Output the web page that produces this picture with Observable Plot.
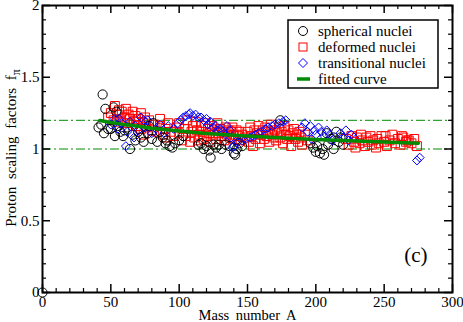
<!DOCTYPE html>
<html>
<head>
<meta charset="utf-8">
<script src="https://cdn.jsdelivr.net/npm/d3@7"></script>
<script src="https://cdn.jsdelivr.net/npm/@observablehq/plot@0.6"></script>
<style>
  html, body { margin: 0; padding: 0; background: white; }
</style>
</head>
<body>
<div id="chart"></div>
<script>
// ---- data (mass number A, proton scaling factor f_pi) ----
const spherical = [
  [0,0],
  [41,1.15],[43,1.17],[44,1.38],[45,1.11],[46,1.28],[48,1.14],[50,1.14],[52,1.29],[53,1.09],[54,1.26],
  [55,1.16],[57,1.12],[59,1.09],[60,1.13],[62,1.15],[64,1.00],[66,1.10],[68,1.06],[70,1.12],[72,1.08],
  [74,1.05],[77,1.11],[78,1.16],[81,1.18],[80,1.07],[84,1.05],[86,1.12],[88,1.08],[90,1.04],[91,1.06],
  [93,1.02],[95,1.01],[97,1.04],[100,1.06],[103,1.09],[114,1.03],[116,1.04],[118,1.00],[120,1.02],
  [122,0.99],[123,0.94],[125,1.03],[127,1.01],[129,1.03],[131,1.00],[134,1.03],[137,1.02],[140,0.97],
  [141,0.96],[142,1.00],[144,1.04],[146,1.02],[174,1.20],[196,1.04],[198,1.01],[200,0.98],[201,1.02],
  [203,0.97],[205,1.00],[206,0.96],[208,1.11],[209,1.03],[211,1.07],[213,1.08],[213,1.00],[215,1.12],
  [217,1.05],[218,1.08],[220,1.03]
];
const deformed = [
  [48,1.22],[50,1.25],[52,1.20],[53,1.30],[55,1.24],[56,1.27],[57,1.19],[58,1.26],[60,1.22],[61,1.28],
  [62,1.18],[63,1.24],[64,1.21],[66,1.26],[67,1.19],[68,1.23],[69,1.16],[70,1.21],[72,1.25],[74,1.18],
  [75,1.22],[72,1.14],[74,1.10],[76,1.15],[78,1.20],[80,1.13],[82,1.17],[84,1.12],[86,1.16],[88,1.10],
  [90,1.14],[92,1.18],[94,1.12],[96,1.09],[98,1.15],[100,1.11],[86,1.21],[90,1.08],
  [100,1.18],[102,1.06],[104,1.14],[105,1.09],[106,1.20],[108,1.05],[109,1.12],[110,1.16],[111,1.08],
  [112,1.19],[113,1.13],[114,1.06],[115,1.10],[116,1.16],[117,1.12],[118,1.07],[119,1.18],[120,1.09],
  [121,1.14],[122,1.11],[123,1.05],[124,1.16],[125,1.10],[126,1.13],[127,1.07],[128,1.18],[129,1.11],
  [130,1.14],[131,1.09],[132,1.12],[133,1.06],[134,1.15],[135,1.10],[136,1.13],[137,1.08],[138,1.12],
  [139,1.15],[140,1.10],[141,1.07],[142,1.13],[143,1.09],[144,1.12],[145,1.06],[146,1.10],
  [148,1.08],[150,1.12],[151,1.05],[152,1.15],[153,1.09],[154,1.02],[155,1.13],[156,1.07],[157,1.11],
  [158,1.16],[159,1.04],[160,1.10],[161,1.13],[162,1.07],[163,1.15],[164,1.09],[165,1.12],[166,1.05],
  [167,1.17],[168,1.10],[169,1.08],[170,1.13],[171,1.06],[172,1.11],[173,1.15],[174,1.08],[175,1.12],
  [176,1.04],[177,1.16],[178,1.10],[179,1.07],[180,1.13],[181,1.09],[182,1.02],[183,1.11],[184,1.14],
  [185,1.07],[186,1.10],[187,1.05],[188,1.12],[189,1.08],[190,1.03],[192,1.10],[194,1.06],
  [222,1.07],[224,1.03],[226,1.09],[228,1.05],[229,1.01],[230,1.08],[232,1.04],[233,1.10],[234,1.06],
  [236,1.02],[237,1.08],[238,1.05],[240,1.09],[241,1.03],[242,1.06],[244,1.01],[245,1.07],[246,1.04],
  [248,1.09],[250,1.05],[251,1.09],[252,1.02],[254,1.06],[256,1.10],[258,1.04],[260,1.07],[262,1.03],
  [263,1.09],[264,1.08],[266,1.05],[267,1.06],[268,1.06],[270,1.04],[272,1.07],[274,1.02]
];
const transitional = [
  [50,1.17],[53,1.21],[55,1.14],[56,1.21],[58,1.18],[61,1.02],[62,1.12],[64,1.19],[67,1.08],[68,1.16],
  [70,1.13],[72,1.22],[74,1.20],[75,1.15],[77,1.20],[80,1.11],[83,1.14],[86,1.17],[89,1.11],[92,1.16],
  [96,1.14],[99,1.18],[101,1.20],[103,1.22],[105,1.23],[107,1.24],[108,1.25],[110,1.23],[112,1.24],
  [114,1.22],[116,1.22],[118,1.20],[120,1.21],[121,1.17],[123,1.19],[125,1.15],[127,1.16],[128,1.13],
  [130,1.14],[132,1.12],[134,1.10],[135,1.16],[137,1.13],[138,1.08],[139,1.01],[140,1.02],[143,1.05],
  [146,1.06],[149,1.07],[152,1.08],[154,1.09],[156,1.10],[158,1.11],[160,1.12],[163,1.14],[165,1.15],
  [168,1.16],[170,1.17],[173,1.18],[176,1.19],[178,1.20],[190,1.15],[192,1.18],[194,1.12],[196,1.16],
  [197,1.07],[199,1.13],[200,1.10],[202,1.15],[204,1.12],[206,1.09],[208,1.13],[210,1.10],[212,1.06],
  [218,1.11],[220,1.08],[222,1.13],[224,1.06],[226,1.10],[228,1.08],[274,0.92],[276,0.94]
];
const fitA = [42, 50, 60, 70, 80, 100, 120, 140, 160, 180, 200, 225, 250, 275];
const fitF = [1.198, 1.185, 1.17, 1.158, 1.145, 1.125, 1.108, 1.095, 1.085, 1.075, 1.066, 1.057, 1.048, 1.04];
const refLines = [1.0, 1.2];

const xMajor = [0, 50, 100, 150, 200, 250, 300];
const xMinor = [10,20,30,40,60,70,80,90,110,120,130,140,160,170,180,190,210,220,230,240,260,270,280,290];
const yMajor = [0, 0.5, 1, 1.5, 2];
const yMinor = [0.1,0.2,0.3,0.4,0.6,0.7,0.8,0.9,1.1,1.2,1.3,1.4,1.6,1.7,1.8,1.9];

const seriesNames = ["spherical nuclei", "deformed nuclei", "transitional nuclei", "fitted curve"];
const seriesColors = ["#000000", "#ff0000", "#0000ff", "#008b00"];
const xLabel = "Mass number A";
const yLabel = "Proton scaling factors f";
const yLabelSub = "\u03c0";
const panelTag = "(c)";

const fit = fitA.map((a, i) => ({A: a, f: fitF[i]}));
const green = seriesColors[3];

const W = 463, H = 322, mL = 42, mR = 11, mT = 5, mB = 30;
const fw = W - mL - mR, fh = H - mT - mB;
const majLen = 8, minLen = 4;

const chart = Plot.plot({
  width: W,
  height: H,
  marginLeft: mL,
  marginRight: mR,
  marginTop: mT,
  marginBottom: mB,
  style: {fontFamily: "'Liberation Serif', 'Times New Roman', serif", fontSize: "15px", background: "white", color: "black"},
  x: {domain: [0, 300], axis: null},
  y: {domain: [0, 2], axis: null},
  marks: [
    Plot.ruleY(refLines, {stroke: green, strokeWidth: 1, strokeDasharray: "9,3,2,3"}),
    Plot.dot(deformed, {x: d => d[0], y: d => d[1], symbol: "square", r: 5, stroke: seriesColors[1], fill: "none", strokeWidth: 1}),
    Plot.dot(spherical, {x: d => d[0], y: d => d[1], symbol: "circle", r: 4.6, stroke: seriesColors[0], fill: "none", strokeWidth: 1}),
    Plot.dot(transitional, {x: d => d[0], y: d => d[1], symbol: "diamond2", r: 4, stroke: seriesColors[2], fill: "none", strokeWidth: 1}),
    Plot.line(fit, {x: "A", y: "f", stroke: green, strokeWidth: 3.5}),
    // inward ticks on all four sides
    Plot.tickX(xMajor, {x: d => d, insetTop: fh - majLen, stroke: "black", strokeWidth: 1.5}),
    Plot.tickX(xMinor, {x: d => d, insetTop: fh - minLen, stroke: "black", strokeWidth: 1.2}),
    Plot.tickX(xMajor, {x: d => d, insetBottom: fh - majLen, stroke: "black", strokeWidth: 1.5}),
    Plot.tickX(xMinor, {x: d => d, insetBottom: fh - minLen, stroke: "black", strokeWidth: 1.2}),
    Plot.tickY(yMajor, {y: d => d, insetRight: fw - majLen, stroke: "black", strokeWidth: 1.5}),
    Plot.tickY(yMinor, {y: d => d, insetRight: fw - minLen, stroke: "black", strokeWidth: 1.2}),
    Plot.tickY(yMajor, {y: d => d, insetLeft: fw - majLen, stroke: "black", strokeWidth: 1.5}),
    Plot.tickY(yMinor, {y: d => d, insetLeft: fw - minLen, stroke: "black", strokeWidth: 1.2}),
    // tick labels
    Plot.axisX(xMajor, {anchor: "bottom", tickSize: 0, tickPadding: 4, label: null, tickFormat: d => String(d)}),
    Plot.axisY(yMajor, {anchor: "left", tickSize: 0, tickPadding: 3, label: null, tickFormat: d => String(d)}),
    Plot.text([xLabel], {frameAnchor: "bottom", dy: 22.5, lineAnchor: "middle", text: d => d, fontSize: 14.5}),
    Plot.text([panelTag], {frameAnchor: "bottom-right", dx: -25, dy: -37, textAnchor: "end", lineAnchor: "middle", text: d => d, fontSize: 21}),
    Plot.frame({stroke: "black", strokeWidth: 2})
  ]
});

document.getElementById("chart").appendChild(chart);

const svg = d3.select(chart);
// word spacing on x label
svg.selectAll("text").filter(function() { return this.textContent === xLabel; }).style("word-spacing", "3px");

// y label with subscript pi
const yl = svg.append("text")
  .attr("transform", "translate(16,148) rotate(-90)")
  .attr("text-anchor", "middle")
  .attr("fill", "black")
  .style("font-size", "15px")
  .style("word-spacing", "4px");
yl.append("tspan").text(yLabel);
yl.append("tspan").attr("dy", 4).style("font-size", "12px").text(yLabelSub);

// legend
const lg = svg.append("g").attr("text-anchor", "start");
lg.append("rect").attr("x", 288).attr("y", 20).attr("width", 150).attr("height", 68)
  .attr("fill", "white").attr("stroke", "black").attr("stroke-width", 1.5);
const symX = 303, textX = 318, row0 = 31, rowStep = 16;
seriesNames.forEach((name, i) => {
  const cy = row0 + i * rowStep;
  const c = seriesColors[i];
  if (i === 0) lg.append("circle").attr("cx", symX).attr("cy", cy).attr("r", 4.5).attr("fill", "none").attr("stroke", c);
  if (i === 1) lg.append("rect").attr("x", symX - 4).attr("y", cy - 4).attr("width", 8).attr("height", 8).attr("fill", "none").attr("stroke", c);
  if (i === 2) lg.append("path").attr("d", `M${symX},${cy-4.5}L${symX+4.5},${cy}L${symX},${cy+4.5}L${symX-4.5},${cy}Z`).attr("fill", "none").attr("stroke", c);
  if (i === 3) lg.append("line").attr("x1", symX - 6).attr("x2", symX + 7).attr("y1", cy).attr("y2", cy).attr("stroke", c).attr("stroke-width", 3.5);
  lg.append("text").attr("x", textX).attr("y", cy + 4.5).attr("text-anchor", "start").attr("fill", "black").style("font-size", "15px").text(name);
});
</script>
</body>
</html>
